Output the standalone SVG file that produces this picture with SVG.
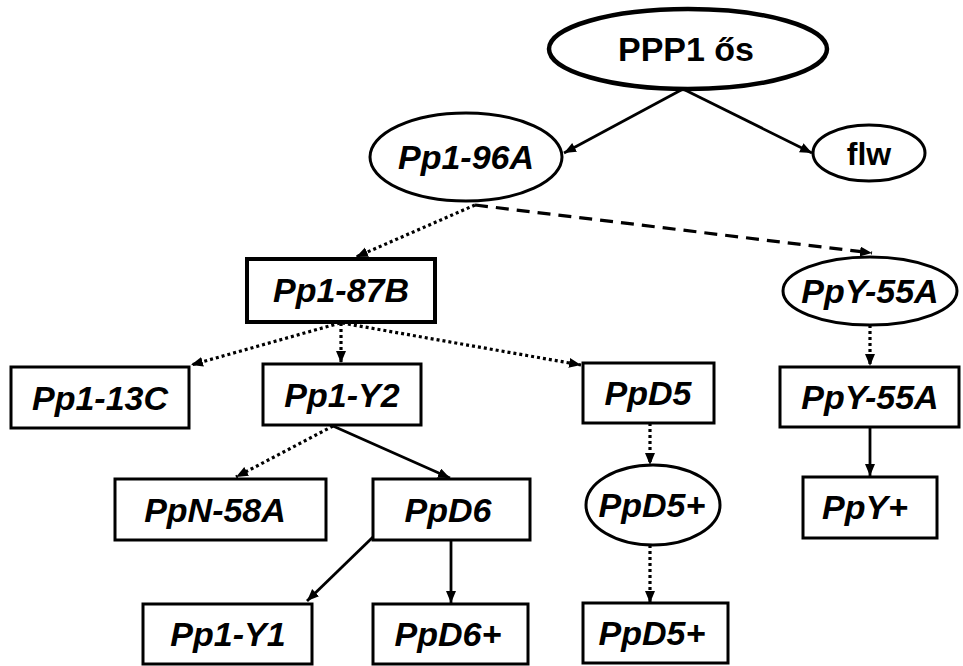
<svg xmlns="http://www.w3.org/2000/svg" width="963" height="666" viewBox="0 0 963 666">
  <defs>
    <style>
      .node { fill: #fff; stroke: #000; stroke-width: 3; }
      .thick { stroke-width: 4.5; }
      .mid { stroke-width: 4; }
      .lbl { font-family: "Liberation Sans", Arial, sans-serif; font-weight: bold; font-style: italic; font-size: 34px; text-anchor: middle; fill: #000; }
      .up { font-style: normal; }
      .edge { fill: none; stroke: #000; stroke-width: 2.8; marker-end: url(#arrow); }
      .dot { stroke-dasharray: 3 3; stroke-width: 3.2; }
      .dash { stroke-dasharray: 13 8; stroke-width: 3.2; }
    </style>
    <marker id="arrow" markerUnits="userSpaceOnUse" markerWidth="14" markerHeight="12" refX="12" refY="5" orient="auto">
      <path d="M0,0 L12,5 L0,10 z" fill="#000"/>
    </marker>
  </defs>

  <g id="connectors">
    <line class="edge" x1="683" y1="89" x2="564" y2="153"/>
    <line class="edge" x1="683" y1="89" x2="812" y2="153"/>
    <line class="edge dot" x1="475" y1="205" x2="356" y2="257"/>
    <line class="edge dash" x1="475" y1="205" x2="872" y2="253"/>
    <line class="edge dot" x1="340" y1="323" x2="191" y2="365"/>
    <line class="edge dot" x1="341" y1="323" x2="341" y2="363"/>
    <line class="edge dot" x1="342" y1="323" x2="581" y2="365"/>
    <line class="edge dot" x1="333" y1="426" x2="236" y2="477"/>
    <line class="edge" x1="333" y1="426" x2="450" y2="478"/>
    <line class="edge" x1="373" y1="537" x2="307" y2="601"/>
    <line class="edge" x1="451" y1="540" x2="451" y2="603"/>
    <line class="edge dot" x1="650" y1="423" x2="650" y2="465"/>
    <line class="edge dot" x1="650" y1="545" x2="650" y2="603"/>
    <line class="edge dot" x1="870" y1="325" x2="870" y2="366"/>
    <line class="edge" x1="870" y1="427" x2="870" y2="476"/>
  </g>

  <g id="ppp1">
    <ellipse class="node thick" cx="688" cy="49" rx="139" ry="40"/>
    <text class="lbl up" x="686" y="61">PPP1 ős</text>
  </g>
  <g id="flw">
    <ellipse class="node" cx="869" cy="153" rx="56" ry="28"/>
    <text class="lbl up" x="869" y="165" style="font-size:32px">flw</text>
  </g>
  <g id="pp1-96a">
    <ellipse class="node" cx="466" cy="157" rx="96" ry="44"/>
    <text class="lbl" x="466" y="169">Pp1-96A</text>
  </g>
  <g id="pp1-87b">
    <rect class="node mid" x="247" y="259" width="188" height="63"/>
    <text class="lbl" x="341" y="302">Pp1-87B</text>
  </g>
  <g id="ppy-55a-ellipse">
    <ellipse class="node" cx="870" cy="291" rx="87" ry="34"/>
    <text class="lbl" x="870" y="303">PpY-55A</text>
  </g>
  <g id="pp1-13c">
    <rect class="node" x="11" y="367" width="178" height="61"/>
    <text class="lbl" x="100" y="410">Pp1-13C</text>
  </g>
  <g id="pp1-y2">
    <rect class="node" x="263" y="364" width="158" height="61"/>
    <text class="lbl" x="342" y="407">Pp1-Y2</text>
  </g>
  <g id="ppd5">
    <rect class="node" x="583" y="363" width="131" height="60"/>
    <text class="lbl" x="648" y="405">PpD5</text>
  </g>
  <g id="ppy-55a-box">
    <rect class="node" x="780" y="367" width="179" height="60"/>
    <text class="lbl" x="870" y="409">PpY-55A</text>
  </g>
  <g id="ppn-58a">
    <rect class="node" x="115" y="479" width="211" height="61"/>
    <text class="lbl" x="215" y="522">PpN-58A</text>
  </g>
  <g id="ppd6">
    <rect class="node" x="373" y="479" width="157" height="61"/>
    <text class="lbl" x="448" y="522">PpD6</text>
  </g>
  <g id="ppd5-plus-ellipse">
    <ellipse class="node" cx="653" cy="505" rx="67" ry="40"/>
    <text class="lbl" x="652" y="517">PpD5+</text>
  </g>
  <g id="ppy-plus">
    <rect class="node" x="803" y="477" width="134" height="61"/>
    <text class="lbl" x="865" y="519">PpY+</text>
  </g>
  <g id="pp1-y1">
    <rect class="node" x="143" y="604" width="169" height="60"/>
    <text class="lbl" x="228" y="646">Pp1-Y1</text>
  </g>
  <g id="ppd6-plus">
    <rect class="node" x="373" y="604" width="155" height="60"/>
    <text class="lbl" x="448" y="646">PpD6+</text>
  </g>
  <g id="ppd5-plus-box">
    <rect class="node" x="583" y="603" width="145" height="60"/>
    <text class="lbl" x="652" y="645">PpD5+</text>
  </g>
</svg>
